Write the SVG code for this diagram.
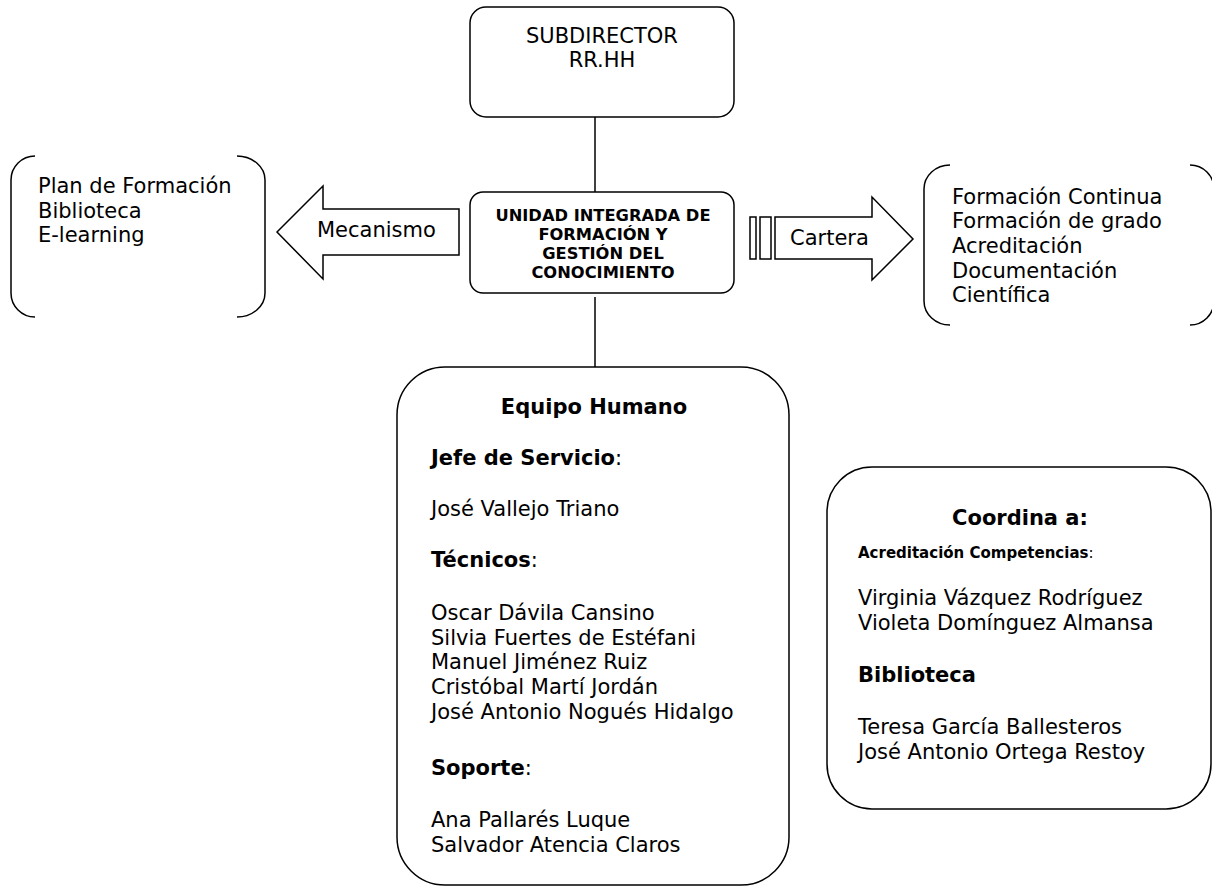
<svg xmlns="http://www.w3.org/2000/svg" width="1212" height="888" viewBox="0 0 1212 888">
<style>
.s{fill:#fff;stroke:#000;stroke-width:1.5}
.b{fill:none;stroke:#000;stroke-width:1.5}
text{font-family:"DejaVu Sans","Noto Sans",sans-serif;font-size:21px;fill:#000}
.bd{font-weight:bold}
.m{text-anchor:middle}
.u{font-size:16.3px;font-weight:bold}
.sm{font-size:15px}
</style>
<rect width="1212" height="888" fill="#fff"/>
<g id="connectors">
<line class="b" x1="595" y1="117" x2="595" y2="192"/>
<line class="b" x1="595" y1="297" x2="595" y2="367"/>
</g>
<g id="subdirector">
<rect class="s" x="470" y="7" width="264" height="110" rx="16"/>
<text class="m" x="602" y="43">SUBDIRECTOR</text>
<text class="m" x="602" y="67">RR.HH</text>
</g>
<g id="unidad">
<rect class="s" x="470" y="192" width="264" height="101" rx="13"/>
<text class="m u" x="603" y="221">UNIDAD INTEGRADA DE</text>
<text class="m u" x="603" y="240">FORMACIÓN Y</text>
<text class="m u" x="603" y="259">GESTIÓN DEL</text>
<text class="m u" x="603" y="278">CONOCIMIENTO</text>
</g>
<g id="mecanismo">
<polygon class="s" points="277,232 323,186 323,209 459,209 459,255 323,255 323,279"/>
<text x="317" y="237">Mecanismo</text>
</g>
<g id="cartera">
<rect class="s" x="750" y="217" width="6" height="42"/>
<rect class="s" x="760" y="217" width="11" height="42"/>
<polygon class="s" points="775,217 872,217 872,197 913,239 872,280 872,259 775,259"/>
<text x="790" y="245">Cartera</text>
</g>
<g id="mecanismos-lista">
<path class="b" d="M35,156 A24,24 0 0 0 11,180 L11,293 A24,24 0 0 0 35,317"/>
<path class="b" d="M237,156 A28,24 0 0 1 265,180 L265,293 A28,24 0 0 1 237,317"/>
<text x="38" y="193">Plan de Formación</text>
<text x="38" y="218">Biblioteca</text>
<text x="38" y="242">E-learning</text>
</g>
<g id="cartera-lista">
<path class="b" d="M950,165 A26,24 0 0 0 924,189 L924,301 A26,24 0 0 0 950,325"/>
<path class="b" d="M1190,165 A24,24 0 0 1 1214,189 L1214,301 A24,24 0 0 1 1190,325"/>
<text x="952" y="204">Formación Continua</text>
<text x="952" y="228">Formación de grado</text>
<text x="952" y="253">Acreditación</text>
<text x="952" y="278">Documentación</text>
<text x="952" y="302">Científica</text>
</g>
<g id="equipo">
<rect class="s" x="397" y="367" width="392" height="518" rx="48"/>
<text class="m bd" x="594" y="414">Equipo Humano</text>
<text x="431" y="465"><tspan class="bd">Jefe de Servicio</tspan>:</text>
<text x="431" y="516">José Vallejo Triano</text>
<text x="431" y="567"><tspan class="bd">Técnicos</tspan>:</text>
<text x="431" y="620">Oscar Dávila Cansino</text>
<text x="431" y="645">Silvia Fuertes de Estéfani</text>
<text x="431" y="669">Manuel Jiménez Ruiz</text>
<text x="431" y="694">Cristóbal Martí Jordán</text>
<text x="431" y="719">José Antonio Nogués Hidalgo</text>
<text x="431" y="775"><tspan class="bd">Soporte</tspan>:</text>
<text x="431" y="827">Ana Pallarés Luque</text>
<text x="431" y="852">Salvador Atencia Claros</text>
</g>
<g id="coordina">
<rect class="s" x="827" y="467" width="384" height="342" rx="45"/>
<text class="m bd" x="1020" y="525">Coordina a:</text>
<text class="sm" x="858" y="558"><tspan class="bd">Acreditación Competencias</tspan>:</text>
<text x="858" y="605">Virginia Vázquez Rodríguez</text>
<text x="858" y="630">Violeta Domínguez Almansa</text>
<text class="bd" x="858" y="682">Biblioteca</text>
<text x="858" y="734">Teresa García Ballesteros</text>
<text x="858" y="759">José Antonio Ortega Restoy</text>
</g>
</svg>
